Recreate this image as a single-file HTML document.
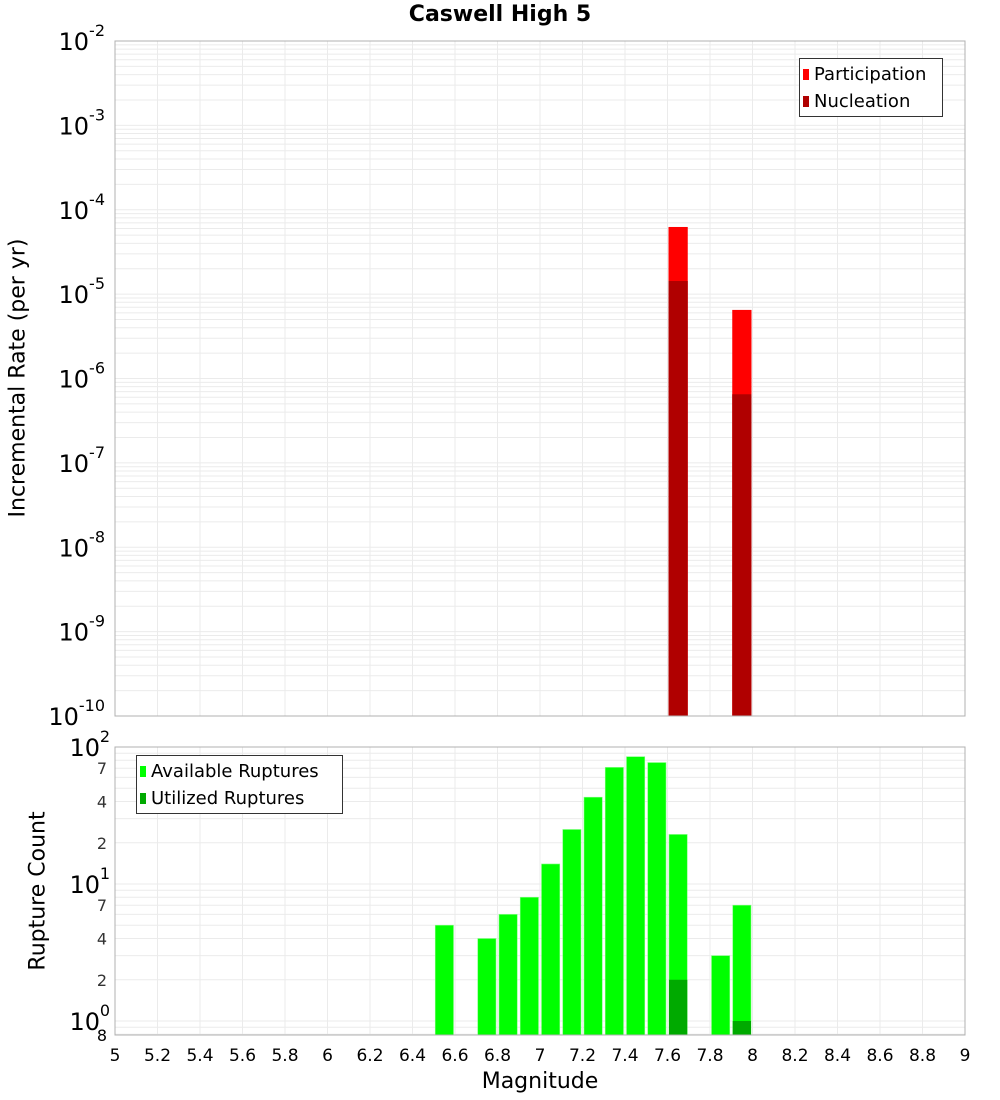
<!DOCTYPE html>
<html><head><meta charset="utf-8"><style>
body{margin:0;background:#fff;}
svg{display:block;font-family:"DejaVu Sans","Liberation Sans",sans-serif;}
</style></head><body>
<svg id="c" width="1000" height="1100"></svg>
<script>
const xTicks=[5,5.2,5.4,5.6,5.8,6,6.2,6.4,6.6,6.8,7,7.2,7.4,7.6,7.8,8,8.2,8.4,8.6,8.8,9];
const xTickLabels=["5","5.2","5.4","5.6","5.8","6","6.2","6.4","6.6","6.8","7","7.2","7.4","7.6","7.8","8","8.2","8.4","8.6","8.8","9"];
const rateMags=[7.65,7.95];
const participation=[6.25e-5,6.5e-6];
const nucleation=[1.43e-5,6.5e-7];
const countMags=[6.55,6.75,6.85,6.95,7.05,7.15,7.25,7.35,7.45,7.55,7.65,7.85,7.95];
const available=[5,4,6,8,14,25,43,71,85,77,23,3,7];
const utilizedMags=[7.65,7.95];
const utilized=[2,1];
const topDecades=[-2,-3,-4,-5,-6,-7,-8,-9,-10];
const botMajor=[2,1,0];
const botMinorLabels=[7,4,2];

const NS="http://www.w3.org/2000/svg";
const svg=document.getElementById('c');
function el(t,a,p){const e=document.createElementNS(NS,t);for(const k in a)e.setAttribute(k,a[k]);(p||svg).appendChild(e);return e;}
const X0=115,X1=965;
const xs=m=>X0+(m-5)/4*(X1-X0);
const T0=41,T1=716;
const yTop=v=>T0+(-2-Math.log10(v))*(T1-T0)/8;
const B0=747,B1=1035,BD=137;
const yBot=v=>B0+(2-Math.log10(v))*BD;

// frames / grids
el('rect',{x:X0,y:T0,width:X1-X0,height:T1-T0,fill:'#fff',stroke:'none'});
el('rect',{x:X0,y:B0,width:X1-X0,height:B1-B0,fill:'#fff',stroke:'none'});
for(const d of [-3,-4,-5,-6,-7,-8,-9,-10]){for(let k=1;k<10;k++){const y=yTop(k*Math.pow(10,d));if(y>T0&&y<T1){el('line',{x1:X0,x2:X1,y1:y,y2:y,stroke:'#ebebeb','stroke-width':1});}}}
for(const d of [-1,0,1]){for(let k=1;k<10;k++){const y=yBot(k*Math.pow(10,d));if(y>B0&&y<B1){el('line',{x1:X0,x2:X1,y1:y,y2:y,stroke:'#ebebeb','stroke-width':1});}}}
xTicks.forEach(t=>{const x=xs(t);
 el('line',{x1:x,x2:x,y1:T0,y2:T1,stroke:'#ebebeb'});
 el('line',{x1:x,x2:x,y1:B0,y2:B1,stroke:'#ebebeb'});});

// top bars
rateMags.forEach((m,i)=>{
 const b=el('rect',{x:xs(m-0.05)+1,y:yTop(participation[i]),width:xs(m+0.05)-xs(m-0.05)-2,height:T1-yTop(participation[i]),fill:'#ff0000'});
 
 
 const n=el('rect',{x:xs(m-0.05)+1,y:yTop(nucleation[i]),width:xs(m+0.05)-xs(m-0.05)-2,height:T1-yTop(nucleation[i]),fill:'#b00000'});
 
 
});
// bottom bars
countMags.forEach((m,i)=>{
 const b=el('rect',{x:xs(m-0.05)+1.5,y:yBot(available[i]),width:xs(m+0.05)-xs(m-0.05)-3,height:B1-yBot(available[i]),fill:'#00ff00',stroke:'#80ff80','stroke-width':0.6});
 
 
});
utilizedMags.forEach((m,i)=>{
 const b=el('rect',{x:xs(m-0.05)+1.5,y:yBot(utilized[i]),width:xs(m+0.05)-xs(m-0.05)-3,height:B1-yBot(utilized[i]),fill:'#00aa00'});
 
 
});
el('rect',{x:X0,y:T0,width:X1-X0,height:T1-T0,fill:'none',stroke:'#b0b0b0'});
el('rect',{x:X0,y:B0,width:X1-X0,height:B1-B0,fill:'none',stroke:'#b0b0b0'});

// top y labels
topDecades.forEach(d=>{const y=yTop(Math.pow(10,d));
 const t=el('text',{x:105,y:y+9,'text-anchor':'end','font-size':24,fill:'#000'});
 
 
 const a=el('tspan',{},t);a.textContent='10';
 const s=el('tspan',{dy:-14,'font-size':16},t);s.textContent=String(d);
});
botMajor.forEach(d=>{const y=yBot(Math.pow(10,d));
 const t=el('text',{x:100,y:y+9,'text-anchor':'end','font-size':24,fill:'#000'});
 
 
 const a=el('tspan',{},t);a.textContent='10';
 const s=el('tspan',{x:110,dy:-14,'font-size':16,'text-anchor':'end'},t);s.textContent=String(d);
});
[1,0].forEach(d=>{botMinorLabels.forEach(k=>{const y=yBot(k*Math.pow(10,d));
 const t=el('text',{x:107,y:y+6,'text-anchor':'end','font-size':16,fill:'#333'});
 
 
 t.textContent=String(k);});});
{const t=el('text',{x:107,y:B1+6,'text-anchor':'end','font-size':16,fill:'#000'});t.textContent='8';}

xTicks.forEach((v,i)=>{const t=el('text',{x:xs(v),y:1061,'text-anchor':'middle','font-size':17,fill:'#000'});
 
 
 t.textContent=xTickLabels[i];});
</script>
<div style="position:absolute;left:0;top:0;width:1000px;height:1100px;pointer-events:none;font-family:'DejaVu Sans','Liberation Sans',sans-serif;">
 <div style="position:absolute;left:0;width:1000px;top:2px;text-align:center;font-weight:bold;font-size:22px;">Caswell High 5</div>
 <div style="position:absolute;left:18px;top:378px;transform:translate(-50%,-50%) rotate(-90deg);white-space:nowrap;font-size:22px;">Incremental Rate (per yr)</div>
 <div style="position:absolute;left:38px;top:891px;transform:translate(-50%,-50%) rotate(-90deg);white-space:nowrap;font-size:22px;">Rupture Count</div>
 <div style="position:absolute;left:0;width:1080px;top:1069px;text-align:center;font-size:22px;">Magnitude</div>
 <div style="position:absolute;left:799px;top:58px;width:142px;height:57px;border:1px solid #333;background:#fff;font-size:18px;">
  <div style="position:absolute;left:3px;top:5px;white-space:nowrap;"><span style="display:inline-block;width:6px;height:11px;background:#f00;margin-right:5px;"></span>Participation</div>
  <div style="position:absolute;left:3px;top:32px;white-space:nowrap;"><span style="display:inline-block;width:6px;height:11px;background:#b00000;margin-right:5px;"></span>Nucleation</div>
 </div>
 <div style="position:absolute;left:136px;top:755px;width:205px;height:57px;border:1px solid #333;background:#fff;font-size:18px;">
  <div style="position:absolute;left:3px;top:5px;white-space:nowrap;"><span style="display:inline-block;width:6px;height:11px;background:#0f0;margin-right:5px;"></span>Available Ruptures</div>
  <div style="position:absolute;left:3px;top:32px;white-space:nowrap;"><span style="display:inline-block;width:6px;height:11px;background:#00aa00;margin-right:5px;"></span>Utilized Ruptures</div>
 </div>
</div>
</body></html>
